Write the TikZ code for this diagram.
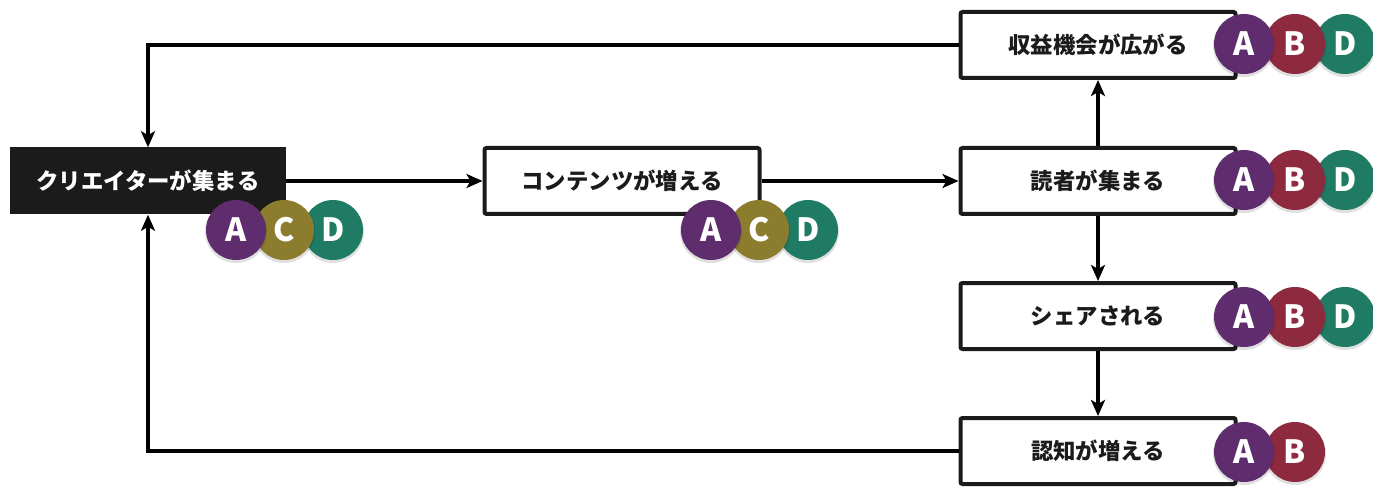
\documentclass[tikz,border=0pt]{standalone}
\usepackage{fontspec}
\newfontfamily\jp{Noto Sans CJK JP}
\usetikzlibrary{arrows.meta}
\definecolor{ink}{HTML}{1B1B1B}
\definecolor{cA}{HTML}{5F2D6E}
\definecolor{cB}{HTML}{8E2A3E}
\definecolor{cC}{HTML}{8C7D2E}
\definecolor{cD}{HTML}{1F7B64}
\tikzset{
  box/.style={draw=ink, line width=3pt, fill=white, rounded corners=1.5pt,
    minimum width=275*0.75pt, minimum height=66*0.75pt, inner sep=0pt,
    font=\jp\bfseries\fontsize{16.8pt}{19pt}\selectfont, text=ink},
  darkbox/.style={fill=ink, draw=none, minimum width=276*0.75pt, minimum height=67*0.75pt,
    inner sep=0pt, font=\jp\bfseries\fontsize{16.8pt}{19pt}\selectfont, text=white},
  badge/.style={circle, fill=#1, minimum size=60*0.75pt, inner sep=0pt, text=white,
    font=\jp\bfseries\fontsize{24pt}{26pt}\selectfont},
  shade/.style={circle, fill=black, opacity=0.12, minimum size=62*0.75pt, inner sep=0pt},
  arr/.style={draw=black, line width=2.4pt, -{Stealth[length=12pt, width=10.5pt, inset=3pt]}},
}
\begin{document}
\begin{tikzpicture}[x=0.75pt, y=-0.75pt]
\useasboundingbox (0,0) rectangle (1373,488);
% boxes
\node[darkbox] (c1) at (148,181) {クリエイターが集まる};
\node[box] (c2) at (622,181) {コンテンツが増える};
\node[box] (r1) at (1098,45) {収益機会が広がる};
\node[box] (r2) at (1098,181) {読者が集まる};
\node[box] (r3) at (1098,316) {シェアされる};
\node[box] (r4) at (1098,451) {認知が増える};
% connectors
\draw[arr] (c1.east) -- (c2.west);
\draw[arr] (c2.east) -- (r2.west);
\draw[arr] (r2.north) -- (r1.south);
\draw[arr] (r2.south) -- (r3.north);
\draw[arr] (r3.south) -- (r4.north);
\draw[arr] (r1.west) -| (c1.north);
\draw[arr] (r4.west) -| (c1.south);
% badges for c1
\node[shade] at (333,232) {};
\node[badge=cD] (c1d) at (333,230) {D};
\node[shade] at (284,232) {};
\node[badge=cC] (c1c) at (284,230) {C};
\node[shade] at (236,232) {};
\node[badge=cA] (c1a) at (236,230) {A};
% badges for c2
\node[shade] at (808,232) {};
\node[badge=cD] (c2d) at (808,230) {D};
\node[shade] at (759,232) {};
\node[badge=cC] (c2c) at (759,230) {C};
\node[shade] at (711,232) {};
\node[badge=cA] (c2a) at (711,230) {A};
% badges for r1
\node[shade] at (1345,46) {};
\node[badge=cD] (r1d) at (1345,44) {D};
\node[shade] at (1295,46) {};
\node[badge=cB] (r1b) at (1295,44) {B};
\node[shade] at (1244,46) {};
\node[badge=cA] (r1a) at (1244,44) {A};
% badges for r2
\node[shade] at (1345,182) {};
\node[badge=cD] (r2d) at (1345,180) {D};
\node[shade] at (1295,182) {};
\node[badge=cB] (r2b) at (1295,180) {B};
\node[shade] at (1244,182) {};
\node[badge=cA] (r2a) at (1244,180) {A};
% badges for r3
\node[shade] at (1345,319) {};
\node[badge=cD] (r3d) at (1345,317) {D};
\node[shade] at (1295,319) {};
\node[badge=cB] (r3b) at (1295,317) {B};
\node[shade] at (1244,319) {};
\node[badge=cA] (r3a) at (1244,317) {A};
% badges for r4
\node[shade] at (1295,454) {};
\node[badge=cB] (r4b) at (1295,452) {B};
\node[shade] at (1244,454) {};
\node[badge=cA] (r4a) at (1244,452) {A};
\end{tikzpicture}
\end{document}
